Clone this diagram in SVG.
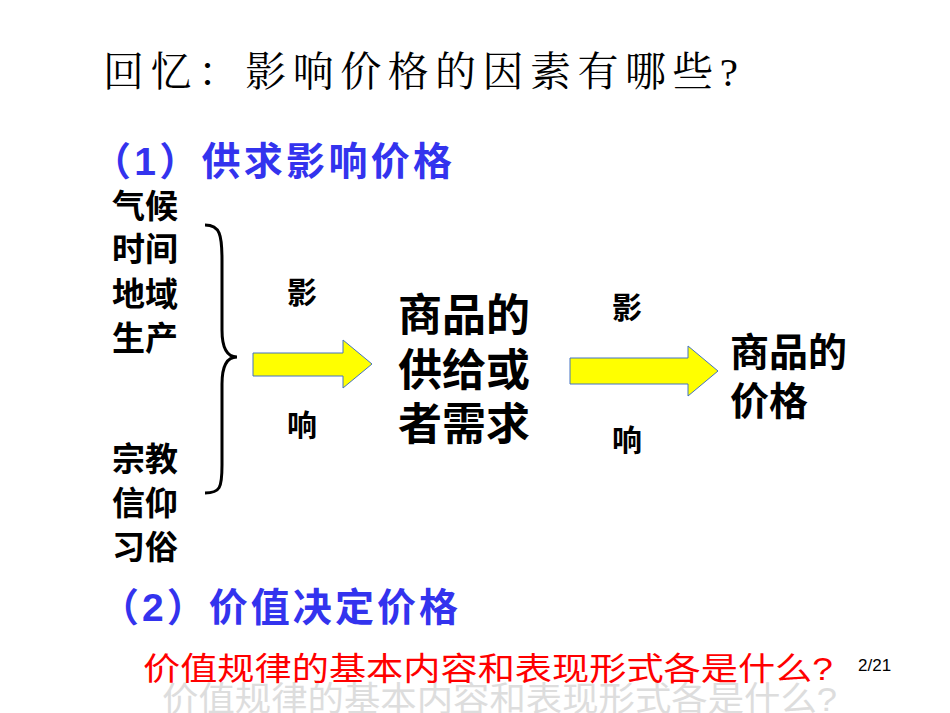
<svg xmlns="http://www.w3.org/2000/svg" width="950" height="713" viewBox="0 0 950 713">
<style>
.t{font-family:"Liberation Sans","Noto Sans CJK SC",sans-serif;font-weight:bold;fill:#000}
.b{font-family:"Liberation Sans","Noto Sans CJK SC",sans-serif;font-weight:bold;fill:#3333ee}
.arr{fill:#ffff00;stroke:#4472c4;stroke-width:1}
</style>
<rect width="950" height="713" fill="#fff"/>
<text x="103" y="86" font-family="'Liberation Serif','Noto Serif CJK SC','Noto Sans CJK SC',serif" font-size="41" fill="#000" textLength="635" lengthAdjust="spacing">回忆：影响价格的因素有哪些?</text>
<text class="b" x="92" y="175" font-size="39" textLength="360" lengthAdjust="spacing">（1）供求影响价格</text>
<g id="factors" class="t" font-size="33">
<text x="112" y="218">气候</text>
<text x="112" y="261">时间</text>
<text x="112" y="306">地域</text>
<text x="112" y="350">生产</text>
<text x="112" y="471">宗教</text>
<text x="112" y="515">信仰</text>
<text x="112" y="559">习俗</text>
</g>
<g id="brace"><path d="M205,225 C220,225 222,235 222,260 L222,330 C222,350 228,357 237,357 C228,357 222,364 222,384 L222,465 C222,488 220,493 205,493" fill="none" stroke="#000" stroke-width="3"/></g>
<g id="connectors">
<path class="arr" d="M253,353 L343,353 L343,340 L372,364 L343,388 L343,376 L253,376 Z"/>
<path class="arr" d="M570,358 L688,358 L688,346 L718,371 L688,396 L688,384 L570,384 Z"/>
</g>
<g class="t" font-size="30">
<text x="287" y="303">影</text>
<text x="287" y="436">响</text>
<text x="612" y="318">影</text>
<text x="612" y="451">响</text>
</g>
<g id="supply" class="t" font-size="44">
<text x="398" y="331">商品的</text>
<text x="398" y="386">供给或</text>
<text x="398" y="440">者需求</text>
</g>
<g id="price" class="t" font-size="39">
<text x="730" y="366">商品的</text>
<text x="730" y="415">价格</text>
</g>
<text class="b" x="100" y="621" font-size="39" textLength="358" lengthAdjust="spacing">（2）价值决定价格</text>
<text x="162" y="711" font-family="'Liberation Sans','Noto Sans CJK SC',sans-serif" font-size="34" fill="#ddd" textLength="675" lengthAdjust="spacingAndGlyphs">价值规律的基本内容和表现形式各是什么?</text>
<text x="143" y="680" font-family="'Liberation Sans','Noto Sans CJK SC',sans-serif" font-size="32" fill="#ff0000" textLength="690" lengthAdjust="spacingAndGlyphs">价值规律的基本内容和表现形式各是什么?</text>
<text x="858" y="671" font-family="'Liberation Sans',sans-serif" font-size="17" fill="#000">2/21</text>
</svg>
